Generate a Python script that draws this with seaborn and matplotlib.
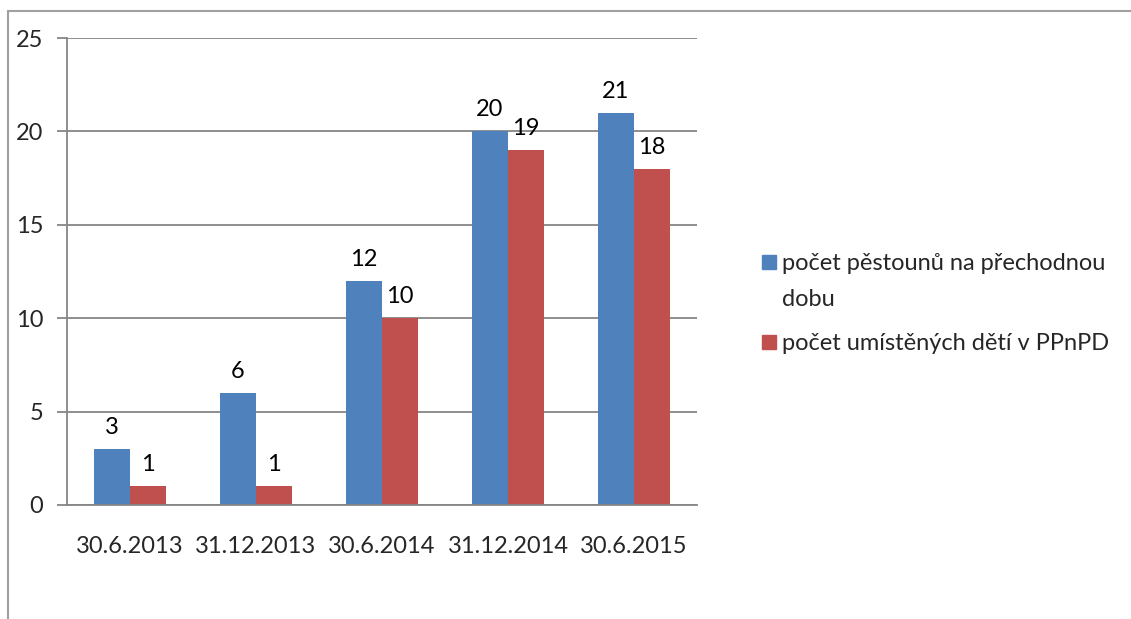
import matplotlib
matplotlib.use("Agg")
import matplotlib.pyplot as plt
from matplotlib.lines import Line2D
import seaborn as sns
import pandas as pd

# data
dates = ["30.6.2013", "31.12.2013", "30.6.2014", "31.12.2014", "30.6.2015"]
pestouni = [3, 6, 12, 20, 21]
deti = [1, 1, 10, 19, 18]
series_names = ["počet pěstounů na přechodnou dobu", "počet umístěných dětí v PPnPD"]
colors = ["#4F81BD", "#C0504D"]

df = pd.DataFrame({
    "datum": dates * 2,
    "pocet": pestouni + deti,
    "serie": [series_names[0]] * len(dates) + [series_names[1]] * len(dates),
})

sns.set_style("white")
plt.rcParams["font.family"] = ["Lato", "DejaVu Sans"]

fig = plt.figure(figsize=(11.31, 6.19), dpi=100)
ax = fig.add_axes([0.0592, 0.1842, 0.557, 0.7544])

sns.barplot(data=df, x="datum", y="pocet", hue="serie", palette=colors,
            saturation=1, width=0.57, linewidth=0, ax=ax, legend=False)

for cont in ax.containers:
    ax.bar_label(cont, padding=8, fontsize=17, color="black")

ax.set_ylim(0, 25)
ax.set_yticks(range(0, 26, 5))
ax.set_xlim(-0.5, len(dates) - 0.5)
ax.yaxis.grid(True, color="#868686", linewidth=1.3)
ax.set_axisbelow(True)
ax.set_xlabel("")
ax.set_ylabel("")

for side in ["top", "right"]:
    ax.spines[side].set_visible(False)
for side in ["left", "bottom"]:
    ax.spines[side].set_color("#868686")
    ax.spines[side].set_linewidth(1.3)

# category separator ticks on x, outward ticks on y
ax.set_xticks([i - 0.5 for i in range(len(dates) + 1)], minor=True)
ax.tick_params(axis="x", which="minor", length=8, width=1.3, color="#868686", direction="out")
ax.tick_params(axis="x", which="major", length=0, pad=22, labelsize=17)
ax.tick_params(axis="y", length=7, width=1.3, color="#868686", direction="out",
               left=True, labelsize=17, pad=10)

# legend: first label wraps after "přechodnou", marker stays on the first line
first_line, rest = series_names[0].rsplit(" ", 1)
handles = [Line2D([], [], marker="s", linestyle="", markersize=10,
                  markerfacecolor=c, markeredgecolor=c) for c in colors]
leg = fig.legend(handles, [first_line, series_names[1]], loc="upper left",
                 bbox_to_anchor=(0.652, 0.625), frameon=False, fontsize=17,
                 handletextpad=0.1, labelspacing=2.5, handlelength=0.9)
fig.canvas.draw()
bb = leg.get_texts()[0].get_window_extent().transformed(fig.transFigure.inverted())
fig.text(bb.x0, bb.y0 - 0.057, rest, fontsize=17, ha="left", va="bottom")

# outer chart frame (partially visible)
fig.add_artist(Line2D([0.007, 0.007], [0, 0.982], color="#A0A0A0", linewidth=1.5))
fig.add_artist(Line2D([0.007, 1], [0.982, 0.982], color="#A0A0A0", linewidth=1.5))

fig.savefig("out.png", dpi=100)
